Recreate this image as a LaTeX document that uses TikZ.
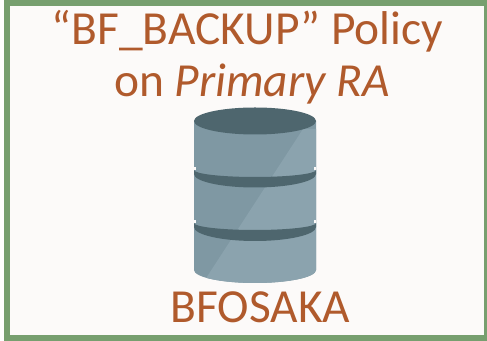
\documentclass[tikz,border=0pt]{standalone}
\usepackage{fontspec}
\setmainfont{Carlito}
\definecolor{framegreen}{HTML}{779F6F}
\definecolor{paperwhite}{HTML}{FCFAF9}
\definecolor{rustbrown}{HTML}{B05A2C}
\definecolor{dbdark}{HTML}{4E666E}
\definecolor{dbmid}{HTML}{7F98A3}
\definecolor{dblight}{HTML}{8BA3AE}
\tikzset{
  caption/.style={anchor=base,text=rustbrown,inner sep=0pt,font=\fontsize{27}{32}\selectfont},
  drum/.style={fill=dbmid},
  band/.style={fill=dbdark}
}
\begin{document}
\begin{tikzpicture}[x=.02cm,y=.02cm]
\useasboundingbox (0,0) rectangle (487,341);
\draw[framegreen,fill=paperwhite,line width=.12cm] (6.7,3) rectangle (487,337.8);
% drum sides
\fill[drum] (194,220) -- (194,71) arc[start angle=180,end angle=360,x radius=61,y radius=13] -- (316,220) -- cycle;
% lighter half of the drum
\fill[dblight] (303,212) -- (316,212) -- (316,71) arc[start angle=360,end angle=217,x radius=61,y radius=13] -- cycle;
% gaps and bands
\fill[paperwhite] (194,174) rectangle (196,171);
\fill[paperwhite] (314,174) rectangle (316,171);
\fill[paperwhite] (194,121) rectangle (196,118);
\fill[paperwhite] (314,121) rectangle (316,118);
\fill[band] (194,171) arc[start angle=180,end angle=360,x radius=61,y radius=7] -- (316,167) arc[start angle=0,end angle=-180,x radius=61,y radius=13.5] -- cycle;
\fill[band] (194,118) arc[start angle=180,end angle=360,x radius=61,y radius=7] -- (316,114) arc[start angle=0,end angle=-180,x radius=61,y radius=14] -- cycle;
\fill[band] (255,220) ellipse[x radius=61,y radius=13.5];
\node[caption] (titletop) at (247.5,296) {“BF\_BACKUP” Policy};
\node[caption] (titlebottom) at (252,244) {on \textit{Primary RA}};
\node[caption] (dbname) at (260.5,18) {BFOSAKA};
\end{tikzpicture}
\end{document}
